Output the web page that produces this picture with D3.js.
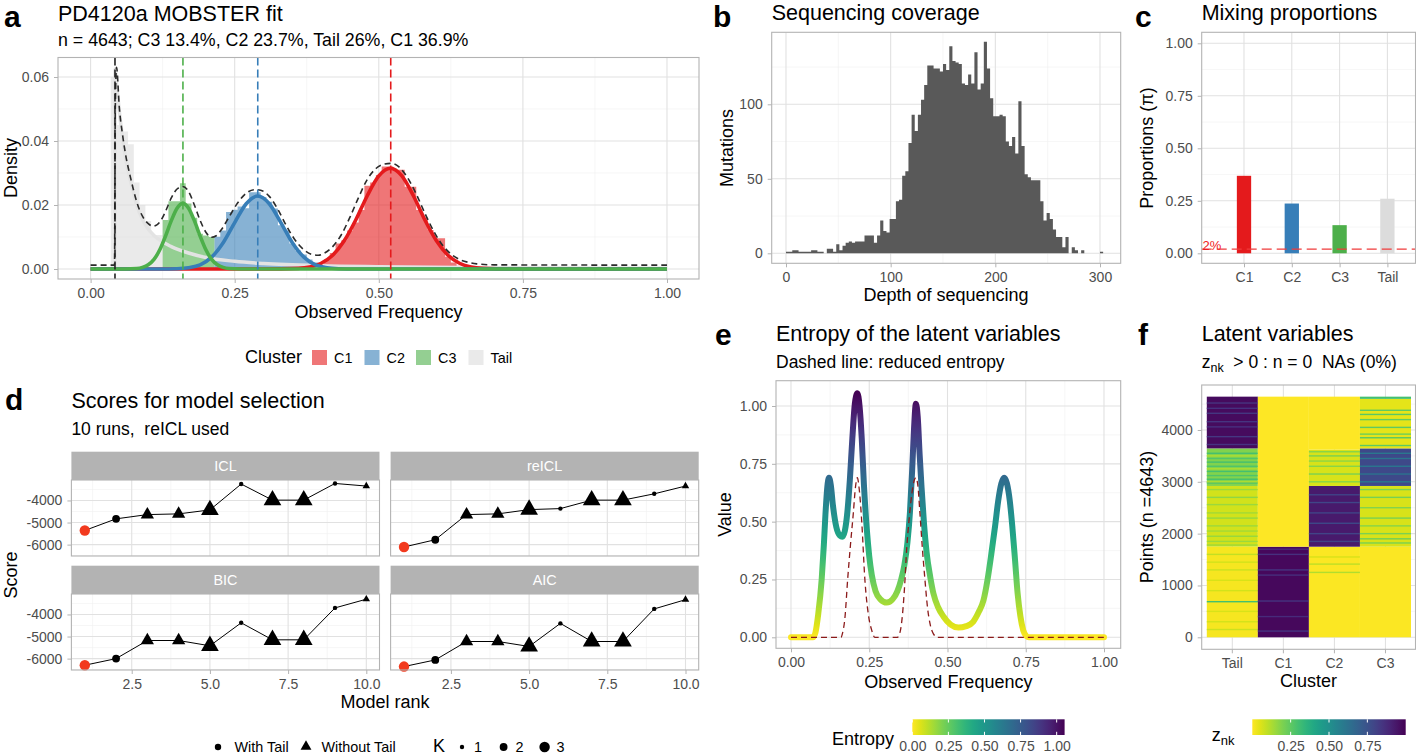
<!DOCTYPE html>
<html>
<head>
<meta charset="utf-8">
<script src="https://cdn.jsdelivr.net/npm/d3@7/dist/d3.min.js"></script>
<style>
html,body{margin:0;padding:0;background:#fff;}
svg text{white-space:pre;}
</style>
</head>
<body>
<svg id="chart" width="1416" height="756" xmlns="http://www.w3.org/2000/svg"></svg>
<script>
/* ================= DATA ================= */
// ---- panel a : MOBSTER fit ----
const clusterNames = ["C1", "C2", "C3", "Tail"];
const clusterProportions = [0.369, 0.237, 0.134, 0.26];
const clusterMeans = [0.5207, 0.290, 0.1602, 0.0423];
const histC1 = [[0.41,0.003],[0.42,0.005],[0.43,0.008],[0.44,0.009],[0.45,0.012],[0.46,0.0145],[0.47,0.0184],[0.48,0.026],[0.49,0.027],[0.50,0.0294],[0.51,0.032],[0.52,0.032],[0.53,0.031],[0.54,0.031],[0.55,0.0257],[0.56,0.0257],[0.57,0.0184],[0.58,0.016],[0.59,0.0122],[0.60,0.0096],[0.61,0.0096],[0.62,0.0038],[0.63,0.002],[0.64,0.001],[0.65,0.0005]];
const histC2 = [[0.22,0.0101],[0.23,0.0120],[0.24,0.0178],[0.25,0.0185],[0.26,0.0195],[0.27,0.0190],[0.28,0.0240],[0.29,0.0240],[0.30,0.0225],[0.31,0.0210],[0.32,0.0189],[0.33,0.0137],[0.34,0.0120],[0.35,0.0080],[0.36,0.0058],[0.37,0.0045],[0.38,0.0030],[0.39,0.0020],[0.40,0.0012]];
const histC3 = [[0.13,0.0153],[0.14,0.0212],[0.15,0.0212],[0.16,0.0268],[0.17,0.0205],[0.18,0.0160],[0.19,0.0110],[0.20,0.0105],[0.21,0.0100]];
const histTail = [[0.04,0.060],[0.05,0.045],[0.06,0.043],[0.07,0.039],[0.08,0.027],[0.09,0.020],[0.10,0.015],[0.11,0.0106],[0.12,0.0106]];
const curveC1 = [[0,0],[0.30,0],[0.36,0.0002],[0.38,0.0006],[0.40,0.0018],[0.42,0.0043],[0.44,0.0088],[0.46,0.0153],[0.48,0.0229],[0.50,0.0291],[0.52,0.0315],[0.54,0.0291],[0.56,0.0229],[0.58,0.0153],[0.60,0.0088],[0.62,0.0043],[0.64,0.0018],[0.66,0.0006],[0.68,0.0002],[0.74,0],[1,0]];
const curveC2 = [[0,0],[0.12,0],[0.15,0.0001],[0.17,0.0004],[0.19,0.0013],[0.21,0.0037],[0.23,0.0082],[0.25,0.0145],[0.27,0.0204],[0.29,0.0228],[0.31,0.0204],[0.33,0.0145],[0.35,0.0082],[0.37,0.0037],[0.39,0.0013],[0.41,0.0004],[0.43,0.0001],[0.46,0],[1,0]];
const curveC3 = [[0,0],[0.06,0],[0.08,0.00015],[0.09,0.0005],[0.10,0.0013],[0.11,0.0030],[0.12,0.0060],[0.13,0.0103],[0.14,0.0151],[0.15,0.0190],[0.16,0.0205],[0.17,0.0190],[0.18,0.0151],[0.19,0.0103],[0.20,0.0060],[0.21,0.0030],[0.22,0.0013],[0.23,0.0005],[0.24,0.00015],[0.26,0],[1,0]];
const curveTail = [[0,0],[0.0422,0],[0.0426,0.0625],[0.045,0.058],[0.050,0.049],[0.055,0.0415],[0.060,0.0355],[0.070,0.027],[0.080,0.020],[0.090,0.0155],[0.100,0.0125],[0.110,0.0105],[0.120,0.0090],[0.140,0.0070],[0.170,0.0050],[0.200,0.0036],[0.250,0.0024],[0.300,0.0017],[0.400,0.0010],[0.500,0.0007],[0.700,0.0004],[1.000,0.0002]];
const curveMixture = [[0,0.0012],[0.0415,0.0012],[0.0428,0.050],[0.045,0.063],[0.050,0.050],[0.055,0.0425],[0.060,0.0365],[0.070,0.028],[0.080,0.021],[0.090,0.0165],[0.100,0.0142],[0.108,0.0134],[0.115,0.0138],[0.122,0.0152],[0.130,0.0180],[0.140,0.0222],[0.150,0.0250],[0.160,0.0258],[0.170,0.0242],[0.180,0.0200],[0.190,0.0152],[0.200,0.0115],[0.210,0.0099],[0.218,0.0104],[0.228,0.0126],[0.240,0.0162],[0.255,0.0206],[0.270,0.0237],[0.285,0.0248],[0.295,0.0246],[0.310,0.0227],[0.325,0.0186],[0.340,0.0134],[0.355,0.0090],[0.370,0.0060],[0.385,0.0045],[0.395,0.0043],[0.405,0.0049],[0.420,0.0070],[0.435,0.0107],[0.450,0.0162],[0.465,0.0224],[0.480,0.0280],[0.495,0.0314],[0.510,0.0328],[0.522,0.0330],[0.535,0.0319],[0.550,0.0285],[0.565,0.0234],[0.580,0.0174],[0.595,0.0119],[0.610,0.0076],[0.625,0.0047],[0.640,0.0030],[0.655,0.0021],[0.670,0.0016],[0.700,0.0013],[1.000,0.0012]];
const densityTicks = [0, 0.02, 0.04, 0.06];
const densityMinor = [0.01, 0.03, 0.05];
const freqTicks = [0, 0.25, 0.5, 0.75, 1];
const freqMinor = [0.125, 0.375, 0.625, 0.875];

// ---- panel b : sequencing coverage (bins of width 3 starting at 0) ----
const depthBinWidth = 3;
const depthCounts = [1,1,2,2,1,1,1,1,2,2, 1,1,0,3,3,1,6,2,5,7, 8,7,8,8,8,12,12,12,7,12,
  22,15,14,23,23,35,36,52,55,74, 93,82,93,103,113,126,126,124,124,122,
  127,123,139,129,128,127,114,113,120,114, 135,110,114,142,124,104,92,92,93,92,
  75,72,78,67,102,72,53,51,49,49, 49,35,22,27,23,16,11,11,4,11, 0,4,2,0,2,0,0,0,0,0,1];
const depthTicks = [0, 100, 200, 300];
const depthMinor = [50, 150, 250];
const mutationTicks = [0, 50, 100];
const mutationMinor = [25, 75, 125];

// ---- panel c : mixing proportions ----
const proportionTicks = [0, 0.25, 0.5, 0.75, 1];
const proportionMinor = [0.125, 0.375, 0.625, 0.875];
const proportionCutoff = 0.02;

// ---- panel d : model selection scores ----
const scoreNames = ["ICL", "reICL", "BIC", "AIC"];
const modelRanks = [1,2,3,4,5,6,7,8,9,10];
const scoreICL   = [-5360,-4833,-4640,-4608,-4428,-3257,-3985,-3985,-3230,-3347];
const scoreReICL = [-6108,-5779,-4640,-4608,-4414,-4369,-3985,-3985,-3699,-3347];
const scoreBIC   = [-6300,-6000,-5180,-5180,-5420,-4378,-5149,-5149,-3703,-3309];
const scoreAIC   = [-6360,-6060,-5225,-5225,-5450,-4405,-5225,-5225,-3748,-3330];
const modelWithTail = [true,true,false,false,false,true,false,false,true,false];
const modelK = [3,2,2,2,3,1,3,3,1,1];
const rankTicks = [2.5, 5, 7.5, 10];
const rankMinor = [1.25, 3.75, 6.25, 8.75];
const scoreTicks = [-4000, -5000, -6000];
const scoreMinor = [-3500, -4500, -5500, -6500];

// ---- panel e : entropy ----
const entropyCurve = [[0,0],[0.070,0],[0.078,0.02],[0.087,0.10],[0.098,0.25],[0.105,0.40],[0.110,0.53],[0.116,0.65],[0.1214,0.69],[0.127,0.66],[0.134,0.57],[0.145,0.475],[0.156,0.44],[0.164,0.435],[0.172,0.46],[0.180,0.54],[0.188,0.68],[0.196,0.86],[0.204,1.01],[0.212,1.055],[0.219,1.00],[0.226,0.86],[0.233,0.66],[0.242,0.47],[0.250,0.35],[0.258,0.27],[0.270,0.20],[0.285,0.165],[0.306,0.15],[0.325,0.165],[0.340,0.20],[0.352,0.25],[0.362,0.31],[0.372,0.41],[0.380,0.54],[0.387,0.72],[0.393,0.90],[0.399,1.01],[0.405,0.95],[0.411,0.79],[0.417,0.65],[0.425,0.49],[0.433,0.37],[0.445,0.26],[0.455,0.19],[0.470,0.13],[0.487,0.09],[0.510,0.055],[0.535,0.042],[0.560,0.048],[0.582,0.067],[0.600,0.11],[0.615,0.16],[0.628,0.25],[0.640,0.36],[0.652,0.48],[0.662,0.59],[0.672,0.665],[0.681,0.69],[0.690,0.665],[0.699,0.59],[0.707,0.48],[0.716,0.33],[0.724,0.19],[0.733,0.09],[0.742,0.03],[0.752,0.005],[0.760,0],[1,0]];
const reducedEntropy = [[0,0],[0.160,0],[0.165,0.02],[0.172,0.08],[0.181,0.25],[0.190,0.40],[0.199,0.535],[0.206,0.65],[0.212,0.69],[0.218,0.64],[0.226,0.50],[0.236,0.25],[0.247,0.10],[0.258,0.03],[0.268,0],[0.340,0],[0.348,0.02],[0.354,0.07],[0.362,0.20],[0.370,0.39],[0.378,0.52],[0.386,0.62],[0.393,0.675],[0.399,0.69],[0.405,0.66],[0.412,0.535],[0.420,0.38],[0.428,0.248],[0.436,0.13],[0.444,0.06],[0.455,0.015],[0.468,0],[1,0]];
const entropyMax = 1.055;
const valueTicks = [0, 0.25, 0.5, 0.75, 1];
const valueMinor = [0.125, 0.375, 0.625, 0.875];

// ---- panel f : latent variables (row blocks [from, to, z] and thin stripes [row, z]) ----
const latentColumns = ["Tail", "C1", "C2", "C3"];
const nPoints = 4643;
const blocksTail = [[0,1748,0.015],[1748,2920,0.07],[2920,3645,0.19],[3645,4643,0.97]];
const stripesTail = [[150,0.08],[300,0.07],[500,0.06],[687,0.30],[900,0.07],[1100,0.06],[1300,0.08],[1450,0.07],[1600,0.09],[1780,0.15],[1850,0.15],[1950,0.16],[2050,0.14],[2150,0.15],[2300,0.16],[2400,0.14],[2560,0.15],[2700,0.17],[2850,0.15],[2980,0.30],[3000,0.12],[3050,0.30],[3120,0.28],[3200,0.30],[3250,0.12],[3300,0.28],[3380,0.30],[3450,0.27],[3500,0.12],[3550,0.30],[3720,0.85],[3871,0.84],[4060,0.86],[4160,0.85],[4322,0.84],[4418,0.86],[4520,0.85]];
const blocksC1 = [[0,1748,0.98],[1748,4643,0.0]];
const stripesC1 = [[120,0.85],[400,0.88],[700,0.85],[1200,0.87],[1300,0.85],[1600,0.86],[1700,0.88]];
const blocksC2 = [[0,1748,0.005],[1748,2920,0.93],[2920,3620,0.06],[3620,4643,0.0]];
const stripesC2 = [[1252,0.12],[1412,0.10],[1550,0.06],[1850,0.80],[2000,0.80],[2200,0.78],[2400,0.80],[2600,0.79],[2750,0.80],[3000,0.18],[3150,0.20],[3300,0.18],[3400,0.17],[3500,0.20],[3580,0.18]];
const blocksC3 = [[0,1748,0.005],[1748,2920,0.06],[2920,3645,0.78],[3645,4600,0.04],[4600,4643,0.30]];
const stripesC3 = [[1820,0.20],[1900,0.22],[2000,0.20],[2150,0.18],[2300,0.20],[2500,0.19],[2700,0.21],[2850,0.20],[3000,0.60],[3150,0.62],[3300,0.60],[3450,0.61],[3550,0.60],[3700,0.25],[3850,0.26],[3920,0.22],[4050,0.25],[4200,0.24],[4300,0.26],[4380,0.25]];
const pointTicks = [0, 1000, 2000, 3000, 4000];
const pointMinor = [500, 1500, 2500, 3500, 4500];
const znkTicks = [0.25, 0.5, 0.75];

/* ================= STYLE ================= */
const FONT = "'Liberation Sans', Arial, Helvetica, sans-serif";
const colorOf = {C1: "#E41A1C", C2: "#377EB8", C3: "#4DAF4A", Tail: "#DCDCDC"};
const BORDER = "#B3B3B3", TICKTXT = "#4D4D4D";
const viridisRev = t => d3.interpolateViridis(1 - t);

/* ================= HELPERS ================= */
const svg = d3.select("#chart").style("font-family", FONT);
svg.append("rect").attr("width", 1416).attr("height", 756).attr("fill", "#fff");
const defs = svg.append("defs");

function txt(g, x, y, s, size, o = {}) {
  const t = g.append("text").attr("x", x).attr("y", y).text(s)
    .style("font-size", size + "px").attr("fill", o.fill || "#000");
  if (o.anchor) t.attr("text-anchor", o.anchor);
  if (o.weight) t.style("font-weight", o.weight);
  if (o.rotate) t.attr("transform", `rotate(-90 ${x} ${y})`);
  return t;
}
function gridLines(g, vals, scale, orient, lo, hi, major) {
  g.append("g").selectAll("line").data(vals).join("line")
    .attr("x1", d => orient === "v" ? scale(d) : lo)
    .attr("x2", d => orient === "v" ? scale(d) : hi)
    .attr("y1", d => orient === "v" ? lo : scale(d))
    .attr("y2", d => orient === "v" ? hi : scale(d))
    .attr("stroke", major ? "#E1E1E1" : "#F0F0F0")
    .attr("stroke-width", major ? 1.1 : 0.6);
}
function styleAxis(a) {
  a.select(".domain").remove();
  a.attr("font-family", null).attr("font-size", null);
  a.selectAll(".tick line").attr("stroke", BORDER);
  a.selectAll(".tick text").attr("fill", TICKTXT).style("font-size", "14px").style("font-family", FONT);
  return a;
}
function bottomAxis(g, scale, vals, fmt, y) {
  const gen = d3.axisBottom(scale).tickSize(4).tickPadding(5).tickFormat(fmt);
  if (vals) gen.tickValues(vals);
  return styleAxis(g.append("g").attr("transform", `translate(0,${y})`).call(gen));
}
function leftAxis(g, scale, vals, fmt, x) {
  const gen = d3.axisLeft(scale).tickSize(4).tickPadding(5).tickFormat(fmt);
  if (vals) gen.tickValues(vals);
  return styleAxis(g.append("g").attr("transform", `translate(${x},0)`).call(gen));
}
function frame(g, b) {
  g.append("rect").attr("x", b.x0).attr("y", b.y0).attr("width", b.x1 - b.x0).attr("height", b.y1 - b.y0)
    .attr("fill", "none").attr("stroke", BORDER).attr("stroke-width", 1.1);
}
function clipRect(id, b) {
  defs.append("clipPath").attr("id", id).append("rect")
    .attr("x", b.x0).attr("y", b.y0).attr("width", b.x1 - b.x0).attr("height", b.y1 - b.y0);
  return `url(#${id})`;
}
const fmt2 = d3.format(".2f");
const fmtInt = d => String(d);

/* ================= PANEL A ================= */
{
  const g = svg.append("g");
  const B = {x0: 58, y0: 57.5, x1: 699, y1: 279};
  const x = d3.scaleLinear().domain([0, 1]).range([90.6, 667]);
  const y = d3.scaleLinear().domain([0, 0.06]).range([269, 77]);
  gridLines(g, freqMinor, x, "v", B.y0, B.y1, false);
  gridLines(g, densityMinor, y, "h", B.x0, B.x1, false);
  gridLines(g, freqTicks, x, "v", B.y0, B.y1, true);
  gridLines(g, densityTicks, y, "h", B.x0, B.x1, true);
  const cp = clipRect("clipA", B);
  const pg = g.append("g").attr("clip-path", cp);
  const half = 0.005;
  const area = d3.area().x(d => x(d[0])).y0(y(0)).y1(d => y(d[1])).curve(d3.curveStepAfter);
  const stepPts = arr => arr.map(d => [d[0] - half, d[1]]).concat([[arr[arr.length - 1][0] + half, arr[arr.length - 1][1]]]);
  [[histTail, "Tail"], [histC3, "C3"], [histC2, "C2"], [histC1, "C1"]].forEach(([h, c]) => {
    pg.append("path").attr("d", area(stepPts(h))).attr("fill", colorOf[c]).attr("fill-opacity", 0.6);
  });
  const line = d3.line().x(d => x(d[0])).y(d => y(d[1])).curve(d3.curveMonotoneX);
  pg.append("path").attr("d", line(curveTail)).attr("fill", "none").attr("stroke", "#E3E3E3").attr("stroke-width", 3.5);
  [[curveC1, "C1"], [curveC2, "C2"], [curveC3, "C3"]].forEach(([c, k]) => {
    pg.append("path").attr("d", line(c)).attr("fill", "none").attr("stroke", colorOf[k]).attr("stroke-width", 3.6).attr("stroke-linejoin", "round");
  });
  pg.append("path").attr("d", line(curveMixture)).attr("fill", "none").attr("stroke", "#2b2b2b")
    .attr("stroke-width", 1.6).attr("stroke-dasharray", "6,4");
  clusterNames.forEach((c, i) => {
    pg.append("line").attr("x1", x(clusterMeans[i])).attr("x2", x(clusterMeans[i]))
      .attr("y1", B.y0).attr("y2", B.y1)
      .attr("stroke", c === "Tail" ? "#222" : colorOf[c]).attr("stroke-width", 1.6).attr("stroke-dasharray", "8,4");
  });
  frame(g, B);
  bottomAxis(g, x, freqTicks, fmt2, B.y1);
  leftAxis(g, y, densityTicks, fmt2, B.x0);
  txt(g, 4, 27, "a", 30, {weight: "bold"});
  txt(g, 58, 20.5, "PD4120a MOBSTER fit", 21.5);
  txt(g, 58, 45.5, "n = 4643; C3 13.4%, C2 23.7%, Tail 26%, C1 36.9%", 17.8);
  txt(g, 17, 168, "Density", 18, {anchor: "middle", rotate: true});
  txt(g, 378.5, 318, "Observed Frequency", 18, {anchor: "middle"});
  // legend
  txt(g, 245, 363, "Cluster", 18);
  const lx = [312, 364.5, 416, 468.5];
  clusterNames.forEach((c, i) => {
    g.append("rect").attr("x", lx[i]).attr("y", 350).attr("width", 15).attr("height", 15)
      .attr("fill", colorOf[c]).attr("fill-opacity", 0.6);
    txt(g, lx[i] + 22, 362.5, c, 14.4);
  });
}

/* ================= PANEL B ================= */
{
  const g = svg.append("g");
  const B = {x0: 771.7, y0: 32.3, x1: 1120.7, y1: 263.3};
  const x = d3.scaleLinear().domain([0, 300]).range([786, 1100]);
  const y = d3.scaleLinear().domain([0, 100]).range([253.3, 104.3]);
  gridLines(g, depthMinor, x, "v", B.y0, B.y1, false);
  gridLines(g, mutationMinor, y, "h", B.x0, B.x1, false);
  gridLines(g, depthTicks, x, "v", B.y0, B.y1, true);
  gridLines(g, mutationTicks, y, "h", B.x0, B.x1, true);
  const pts = depthCounts.map((c, i) => [i * depthBinWidth, c]);
  pts.push([depthCounts.length * depthBinWidth, depthCounts[depthCounts.length - 1]]);
  const area = d3.area().x(d => x(d[0])).y0(y(0)).y1(d => y(d[1])).curve(d3.curveStepAfter);
  g.append("path").attr("d", area(pts)).attr("fill", "#595959");
  frame(g, B);
  bottomAxis(g, x, depthTicks, fmtInt, B.y1);
  leftAxis(g, y, mutationTicks, fmtInt, B.x0);
  txt(g, 713, 27, "b", 30, {weight: "bold"});
  txt(g, 771.7, 20, "Sequencing coverage", 21.5);
  txt(g, 733, 148, "Mutations", 18, {anchor: "middle", rotate: true});
  txt(g, 946, 301, "Depth of sequencing", 18, {anchor: "middle"});
}

/* ================= PANEL C ================= */
{
  const g = svg.append("g");
  const B = {x0: 1201.7, y0: 32.3, x1: 1415.5, y1: 263.3};
  const x = d3.scalePoint().domain(clusterNames).range([1244, 1387.4]);
  const y = d3.scaleLinear().domain([0, 1]).range([253.3, 43.3]);
  gridLines(g, proportionMinor, y, "h", B.x0, B.x1, false);
  gridLines(g, clusterNames, x, "v", B.y0, B.y1, true);
  gridLines(g, proportionTicks, y, "h", B.x0, B.x1, true);
  const bw = 14.3;
  g.selectAll(".barc").data(clusterNames).join("rect")
    .attr("x", d => x(d) - bw / 2).attr("width", bw)
    .attr("y", (d, i) => y(clusterProportions[i]))
    .attr("height", (d, i) => y(0) - y(clusterProportions[i]))
    .attr("fill", d => colorOf[d]);
  g.append("line").attr("x1", B.x0).attr("x2", B.x1).attr("y1", y(proportionCutoff)).attr("y2", y(proportionCutoff))
    .attr("stroke", "#EF3B3B").attr("stroke-width", 1.2).attr("stroke-dasharray", "10,5");
  txt(g, 1202.5, y(proportionCutoff) + 0.5, "2%", 13, {fill: "#EF2020"});
  frame(g, B);
  bottomAxis(g, x, null, d => d, B.y1);
  leftAxis(g, y, proportionTicks, fmt2, B.x0);
  txt(g, 1135, 27, "c", 30, {weight: "bold"});
  txt(g, 1201.7, 20, "Mixing proportions", 21.5);
  txt(g, 1153, 148, "Proportions (π)", 18, {anchor: "middle", rotate: true});
}

/* ================= PANEL D ================= */
{
  const g = svg.append("g");
  const scoreSeries = [scoreICL, scoreReICL, scoreBIC, scoreAIC];
  const cols = [[71.4, 379.5], [390.6, 698.7]];
  const rows = [[451.7, 480, 556], [565.7, 594, 670]];
  const rSize = d3.scaleSqrt().domain([1, 3]).range([2.2, 5.2]);
  const sym = (tail, k) => d3.symbol().type(tail ? d3.symbolCircle : d3.symbolTriangle)
    .size(Math.PI * rSize(k) * rSize(k) * (tail ? 1 : 1.6))();
  scoreNames.forEach((name, f) => {
    const c = f % 2, r = Math.floor(f / 2);
    const [cx0, cx1] = cols[c];
    const [sy0, py0, py1] = rows[r];
    const x = d3.scaleLinear().domain([1, 10]).range([cx0 + 13.4, cx0 + 294.9]);
    const y = d3.scaleLinear().domain([-6516, -3073]).range([py1, py0]);
    const B = {x0: cx0, y0: py0, x1: cx1, y1: py1};
    gridLines(g, rankMinor, x, "v", py0, py1, false);
    gridLines(g, scoreMinor.filter(v => y(v) > py0 && y(v) < py1), y, "h", cx0, cx1, false);
    gridLines(g, rankTicks, x, "v", py0, py1, true);
    gridLines(g, scoreTicks, y, "h", cx0, cx1, true);
    g.append("rect").attr("x", cx0).attr("y", sy0).attr("width", cx1 - cx0).attr("height", py0 - sy0).attr("fill", "#B3B3B3");
    txt(g, (cx0 + cx1) / 2, (sy0 + py0) / 2 + 5, name, 14.4, {anchor: "middle", fill: "#fff"});
    const vals = scoreSeries[f];
    g.append("path").attr("d", d3.line().x((d, i) => x(modelRanks[i])).y(d => y(d))(vals))
      .attr("fill", "none").attr("stroke", "#000").attr("stroke-width", 1);
    g.append("g").selectAll("path").data(vals).join("path")
      .attr("transform", (d, i) => `translate(${x(modelRanks[i])},${y(d)})`)
      .attr("d", (d, i) => sym(modelWithTail[i], modelK[i]))
      .attr("fill", (d, i) => i === 0 ? "#F23A1E" : "#000");
    frame(g, B);
    if (r === 1) bottomAxis(g, x, rankTicks, d3.format(".1f"), py1);
    if (c === 0) leftAxis(g, y, scoreTicks, fmtInt, cx0);
  });
  txt(g, 5, 410, "d", 30, {weight: "bold"});
  txt(g, 71.4, 408, "Scores for model selection", 21.5);
  txt(g, 71.4, 435, "10 runs,  reICL used", 17.5);
  txt(g, 17, 575, "Score", 18, {anchor: "middle", rotate: true});
  txt(g, 385, 708, "Model rank", 18, {anchor: "middle"});
  // legend
  g.append("path").attr("transform", "translate(218,747)").attr("d", d3.symbol().type(d3.symbolCircle).size(Math.PI * 3.2 * 3.2)()).attr("fill", "#000");
  txt(g, 234.5, 752, "With Tail", 14.4);
  g.append("path").attr("transform", "translate(306,746.5)").attr("d", d3.symbol().type(d3.symbolTriangle).size(Math.PI * 3.2 * 3.2 * 1.6)()).attr("fill", "#000");
  txt(g, 321.5, 752, "Without Tail", 14.4);
  txt(g, 433, 751.5, "K", 18);
  [[462, 1], [503.6, 2], [544.6, 3]].forEach(([px, k]) => {
    g.append("circle").attr("cx", px).attr("cy", 747).attr("r", rSize(k)).attr("fill", "#000");
    txt(g, px + 12, 752, String(k), 14.4);
  });
}

/* ================= PANEL E ================= */
{
  const g = svg.append("g");
  const B = {x0: 776, y0: 380.7, x1: 1120.7, y1: 648.3};
  const x = d3.scaleLinear().domain([0, 1]).range([791, 1104]);
  const y = d3.scaleLinear().domain([0, 1]).range([637.3, 406]);
  gridLines(g, freqMinor, x, "v", B.y0, B.y1, false);
  gridLines(g, valueMinor, y, "h", B.x0, B.x1, false);
  gridLines(g, freqTicks, x, "v", B.y0, B.y1, true);
  gridLines(g, valueTicks, y, "h", B.x0, B.x1, true);
  const grad = defs.append("linearGradient").attr("id", "entGrad").attr("gradientUnits", "userSpaceOnUse")
    .attr("x1", 0).attr("x2", 0).attr("y1", y(0)).attr("y2", y(entropyMax));
  d3.range(0, 1.0001, 0.05).forEach(t => grad.append("stop").attr("offset", t).attr("stop-color", viridisRev(t)));
  const line = d3.line().x(d => x(d[0])).y(d => y(d[1])).curve(d3.curveMonotoneX);
  g.append("path").attr("d", line(entropyCurve)).attr("fill", "none").attr("stroke", "url(#entGrad)")
    .attr("stroke-width", 6).attr("stroke-linecap", "round").attr("stroke-linejoin", "round");
  g.append("path").attr("d", line(reducedEntropy)).attr("fill", "none").attr("stroke", "#8B1A1A")
    .attr("stroke-width", 1.3).attr("stroke-dasharray", "6,4");
  frame(g, B);
  bottomAxis(g, x, freqTicks, fmt2, B.y1);
  leftAxis(g, y, valueTicks, fmt2, B.x0);
  txt(g, 715, 345, "e", 30, {weight: "bold"});
  txt(g, 776, 340.7, "Entropy of the latent variables", 21.5);
  txt(g, 776, 367.7, "Dashed line: reduced entropy", 17.5);
  txt(g, 731, 514.5, "Value", 18, {anchor: "middle", rotate: true});
  txt(g, 948.4, 688, "Observed Frequency", 18, {anchor: "middle"});
  // colour bar
  const lg = defs.append("linearGradient").attr("id", "entBar");
  d3.range(0, 1.0001, 0.05).forEach(t => lg.append("stop").attr("offset", t).attr("stop-color", viridisRev(t)));
  const lx = d3.scaleLinear().domain([0, entropyMax]).range([912.3, 1064.6]);
  g.append("rect").attr("x", lx(0)).attr("y", 719.3).attr("width", lx(entropyMax) - lx(0)).attr("height", 15.7).attr("fill", "url(#entBar)");
  valueTicks.forEach(v => {
    g.append("line").attr("x1", lx(v)).attr("x2", lx(v)).attr("y1", 719.3).attr("y2", 722.5).attr("stroke", "#fff");
    g.append("line").attr("x1", lx(v)).attr("x2", lx(v)).attr("y1", 731.8).attr("y2", 735).attr("stroke", "#fff");
  });
  const la = g.append("g").attr("transform", "translate(0,735)")
    .call(d3.axisBottom(lx).tickValues(valueTicks).tickFormat(fmt2).tickSize(0).tickPadding(6.5));
  styleAxis(la);
  txt(g, 832, 745, "Entropy", 18);
}

/* ================= PANEL F ================= */
{
  const g = svg.append("g");
  const B = {x0: 1201.7, y0: 385, x1: 1415.5, y1: 649.3};
  const x = d3.scaleBand().domain(latentColumns).range([1206.8, 1411]);
  const y = d3.scaleLinear().domain([0, nPoints]).range([637.3, 637.3 - nPoints * 0.05183]);
  const col = d3.scaleSequential(viridisRev).domain([0, 1]);
  gridLines(g, pointMinor.filter(v => y(v) > B.y0), y, "h", B.x0, B.x1, false);
  gridLines(g, latentColumns, d => x(d) + x.bandwidth() / 2, "v", B.y0, B.y1, true);
  gridLines(g, pointTicks, y, "h", B.x0, B.x1, true);
  const blocks = {Tail: blocksTail, C1: blocksC1, C2: blocksC2, C3: blocksC3};
  const stripes = {Tail: stripesTail, C1: stripesC1, C2: stripesC2, C3: stripesC3};
  latentColumns.forEach(c => {
    g.append("g").selectAll("rect").data(blocks[c]).join("rect")
      .attr("x", x(c)).attr("width", x.bandwidth())
      .attr("y", d => y(d[1])).attr("height", d => y(d[0]) - y(d[1]))
      .attr("fill", d => col(d[2]));
    g.append("g").selectAll("rect").data(stripes[c]).join("rect")
      .attr("x", x(c)).attr("width", x.bandwidth())
      .attr("y", d => y(d[0]) - 0.7).attr("height", 1.4)
      .attr("fill", d => col(d[1]));
  });
  frame(g, B);
  bottomAxis(g, x, null, d => d, B.y1);
  leftAxis(g, y, pointTicks, fmtInt, B.x0);
  txt(g, 1138, 345, "f", 30, {weight: "bold"});
  txt(g, 1201.7, 340.7, "Latent variables", 21.5);
  const st = g.append("text").attr("x", 1201.7).attr("y", 367.7).style("font-size", "17.5px");
  st.append("tspan").text("z");
  st.append("tspan").attr("dy", 4).style("font-size", "12.5px").text("nk");
  st.append("tspan").attr("dy", -4).text("  > 0 : n = 0  NAs (0%)");
  txt(g, 1153, 517, "Points (n =4643)", 18, {anchor: "middle", rotate: true});
  txt(g, 1308.6, 687, "Cluster", 18, {anchor: "middle"});
  // colour bar
  const lg = defs.append("linearGradient").attr("id", "znkBar");
  d3.range(0, 1.0001, 0.05).forEach(t => lg.append("stop").attr("offset", t).attr("stop-color", viridisRev(t)));
  const lx = d3.scaleLinear().domain([0, 1]).range([1252.3, 1405.7]);
  g.append("rect").attr("x", lx(0)).attr("y", 719.3).attr("width", lx(1) - lx(0)).attr("height", 15.7).attr("fill", "url(#znkBar)");
  znkTicks.forEach(v => {
    g.append("line").attr("x1", lx(v)).attr("x2", lx(v)).attr("y1", 719.3).attr("y2", 722.5).attr("stroke", "#fff");
    g.append("line").attr("x1", lx(v)).attr("x2", lx(v)).attr("y1", 731.8).attr("y2", 735).attr("stroke", "#fff");
  });
  const la = g.append("g").attr("transform", "translate(0,735)")
    .call(d3.axisBottom(lx).tickValues(znkTicks).tickFormat(fmt2).tickSize(0).tickPadding(6.5));
  styleAxis(la);
  const zt = g.append("text").attr("x", 1211.7).attr("y", 741).style("font-size", "18px");
  zt.append("tspan").text("z");
  zt.append("tspan").attr("dy", 4).style("font-size", "13px").text("nk");
}
</script>
</body>
</html>
